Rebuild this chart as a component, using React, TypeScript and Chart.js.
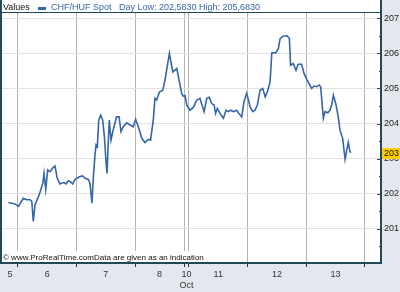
import { useEffect, useRef } from 'react';
import { Chart, registerables } from 'chart.js';
Chart.register(...registerables);

// ---- data ----
const seriesName = 'CHF/HUF Spot';
const dayLow = '202,5830';
const dayHigh = '205,6830';
const sourceNote = '\u00A9 www.ProRealTime.comData are given as an indication';

// time in trading hours from the start of the window (weekend compressed)
const times = [
  2.6, 5.3, 6.7, 8.7, 10.1, 11.5, 12.2, 12.8, 13.5, 14.9, 15.5, 16.7, 17.2, 17.9, 18.7, 19.6, 20.7, 21.7, 22.6, 23.7,
  24.4, 25.4, 26.2, 27.1, 28.1, 28.9, 29.9, 31.9, 33.0, 34.0, 35.3, 36.0, 36.8, 37.4, 38.1, 38.5, 39.0, 39.6, 40.4, 41.2,
  41.9, 42.6, 43.0, 43.4, 43.9, 44.6, 45.5, 46.2, 46.9, 47.9, 48.7, 49.6, 51.0, 52.4, 53.7, 54.7, 55.8, 57.2, 58.5, 59.9,
  60.8, 61.9, 62.6, 63.3, 64.4, 65.8, 66.7, 67.6, 68.5, 69.0, 69.9, 70.8, 71.5, 72.6, 73.5, 74.2, 74.9, 75.6, 76.9, 78.3,
  79.7, 81.0, 82.7, 83.8, 84.8, 85.8, 86.8, 87.4, 88.1, 89.2, 90.6, 91.7, 92.6, 93.6, 94.7, 96.0, 97.1, 98.1, 99.0, 100.1,
  100.8, 101.5, 102.6, 103.5, 104.5, 105.6, 106.7, 107.7, 108.7, 109.7, 110.4, 112.1, 113.1, 113.8, 114.9, 116.7, 117.6, 118.1, 119.2, 120.3,
  121.2, 122.6, 123.6, 124.7, 126.7, 127.7, 128.8, 129.8, 130.4, 131.5, 132.2, 133.3, 134.2, 134.9, 135.6, 136.7, 137.6, 138.3, 139.4, 140.4,
  141.1, 141.7, 142.4, 142.8,
];
const values = [
  201.75, 201.71, 201.64, 201.87, 201.83, 201.83, 201.78, 201.21, 201.68, 201.92, 202.03, 202.30, 202.58, 202.13, 202.68, 202.63, 202.73, 202.79, 202.44, 202.28,
  202.30, 202.32, 202.28, 202.37, 202.34, 202.28, 202.41, 202.49, 202.51, 202.44, 202.41, 202.30, 201.73, 202.49, 203.15, 203.39, 203.34, 204.10, 204.24, 204.10,
  203.63, 202.87, 202.58, 203.34, 204.10, 203.53, 203.82, 204.01, 204.19, 204.19, 203.77, 203.91, 204.02, 203.96, 203.91, 204.12, 203.91, 203.58, 203.46, 203.55,
  203.53, 204.10, 204.72, 204.67, 204.90, 204.95, 205.24, 205.62, 206.00, 205.81, 205.47, 205.52, 205.57, 205.19, 204.86, 204.78, 204.80, 204.53, 204.38, 204.46,
  204.67, 204.72, 204.34, 204.72, 204.75, 204.57, 204.53, 204.29, 204.43, 204.29, 204.15, 204.38, 204.34, 204.38, 204.34, 204.38, 204.27, 204.19, 204.62, 204.86,
  204.69, 204.48, 204.34, 204.38, 204.53, 204.95, 205.00, 204.76, 204.93, 205.19, 206.01, 206.02, 206.14, 206.42, 206.49, 206.50, 206.42, 205.66, 205.71, 205.52,
  205.69, 205.69, 205.43, 205.26, 205.00, 205.07, 205.05, 205.10, 205.05, 204.15, 204.34, 204.31, 204.38, 204.53, 204.81, 204.53, 204.19, 203.82, 203.58, 202.98,
  203.25, 203.46, 203.20, 203.17,
];

const xMin = 0;
const xMax = 155.5;
const dayBoundaries = [6.5, 30.5, 54.5, 74.5, 76.5, 100.5, 124.5, 148.5];
const dayLabels = ['5', '6', '7', '8', '10', '11', '12', '13'];
const monthLabel = 'Oct';
const monthUnderDay = '10';

const yMin = 200;
const yMax = 207.15;
const yMajor = [201, 202, 203, 204, 205, 206, 207];
const yMinor = [200.5, 201.5, 202.5, 203.5, 204.5, 205.5, 206.5];

// ---- styles ----
const FONT = "'Liberation Sans', Arial, sans-serif";
const FRAME = '#1f4a56';
const BLUE = '#3566a8';

const segStarts = [xMin, ...dayBoundaries.slice(0, -1)];
const labelPositions = segStarts.map((s, i) => (s + dayBoundaries[i]) / 2);

export default function App() {
  const ref = useRef<HTMLCanvasElement | null>(null);

  useEffect(() => {
    if (!ref.current) return;

    const framePlugin = {
      id: 'frame',
      beforeDraw(chart: any) {
        const { ctx, chartArea } = chart;
        ctx.save();
        ctx.fillStyle = '#ffffff';
        ctx.fillRect(0, 0, chartArea.right, chartArea.bottom);
        ctx.restore();
      },
      afterDraw(chart: any) {
        const { ctx, chartArea, scales } = chart;
        const { left, right, top, bottom } = chartArea;
        ctx.save();
        // header text
        ctx.font = `9px ${FONT}`;
        ctx.textBaseline = 'alphabetic';
        ctx.textAlign = 'left';
        ctx.fillStyle = '#111';
        ctx.fillText('Values', 3, 10);
        ctx.fillStyle = BLUE;
        ctx.fillRect(38, 7, 8, 3);
        ctx.fillText(seriesName, 51, 10);
        ctx.fillText(`Day Low: ${dayLow} High: ${dayHigh}`, 119, 10);
        // source note
        ctx.font = `8px ${FONT}`;
        const w = ctx.measureText(sourceNote).width;
        ctx.fillStyle = '#fff';
        ctx.fillRect(left, bottom - 13, w + 3, 12);
        ctx.fillStyle = '#111';
        ctx.fillText(sourceNote, 3, bottom - 4);
        // y tick marks inside the right edge
        const ys = scales.y;
        ctx.strokeStyle = '#444';
        ctx.lineWidth = 1;
        ys.ticks.forEach((t: any) => {
          const isMajor = yMajor.includes(t.value);
          const len = isMajor ? 5 : 3;
          const py = Math.round(ys.getPixelForValue(t.value)) + 0.5;
          ctx.beginPath();
          ctx.moveTo(right - len, py);
          ctx.lineTo(right, py);
          ctx.stroke();
        });
        // frame
        ctx.strokeStyle = FRAME;
        ctx.lineWidth = 2;
        ctx.beginPath();
        ctx.moveTo(1, 0);
        ctx.lineTo(1, bottom);
        ctx.moveTo(0, bottom - 1);
        ctx.lineTo(right, bottom - 1);
        ctx.moveTo(right - 1, 0);
        ctx.lineTo(right - 1, bottom);
        ctx.stroke();
        ctx.lineWidth = 1;
        ctx.beginPath();
        ctx.moveTo(0, top - 0.5);
        ctx.lineTo(right, top - 0.5);
        ctx.stroke();
        // last value marker
        const last = values[values.length - 1];
        const ly = ys.getPixelForValue(last);
        ctx.fillStyle = '#ffcc00';
        ctx.fillRect(right, Math.round(ly) - 5, 18, 11);
        ctx.fillStyle = '#111';
        ctx.font = `9px ${FONT}`;
        ctx.textBaseline = 'middle';
        ctx.fillText(String(Math.floor(last)), right + 2, Math.round(ly) + 1);
        ctx.restore();
      },
    };

    const chart = new Chart(ref.current, {
      type: 'line',
      data: {
        datasets: [
          {
            label: seriesName,
            data: times.map((t, i) => ({ x: t, y: values[i] })),
            borderColor: BLUE,
            borderWidth: 1.6,
            pointRadius: 0,
            tension: 0,
            fill: false,
          },
        ],
      },
      options: {
        animation: false,
        responsive: true,
        maintainAspectRatio: false,
        layout: { padding: { left: 2, top: 13, right: 0, bottom: 0 } },
        plugins: { legend: { display: false }, tooltip: { enabled: false } },
        scales: {
          x: {
            type: 'linear',
            min: xMin,
            max: xMax,
            border: { display: false },
            afterBuildTicks: (scale: any) => {
              const all = [...dayBoundaries, ...labelPositions].sort((a, b) => a - b);
              scale.ticks = all.map((v) => ({ value: v }));
            },
            afterFit: (scale: any) => {
              scale.height = 28;
            },
            grid: {
              color: (ctx: any) => (dayBoundaries.includes(ctx.tick?.value) ? '#b4b4b4' : 'rgba(0,0,0,0)'),
              tickColor: (ctx: any) => (dayBoundaries.includes(ctx.tick?.value) ? '#333' : 'rgba(0,0,0,0)'),
              tickLength: 3,
              lineWidth: 1,
            },
            ticks: {
              autoSkip: false,
              maxRotation: 0,
              padding: 2,
              color: '#333',
              font: { family: FONT, size: 9 },
              callback: (value: any) => {
                const i = labelPositions.indexOf(Number(value));
                if (i < 0) return '';
                const lbl = dayLabels[i];
                return lbl === monthUnderDay ? [lbl, monthLabel] : lbl;
              },
            },
          },
          y: {
            type: 'linear',
            position: 'right',
            min: yMin,
            max: yMax,
            border: { display: false },
            afterBuildTicks: (scale: any) => {
              scale.ticks = [...yMinor, ...yMajor].sort((a, b) => a - b).map((v) => ({ value: v }));
            },
            afterFit: (scale: any) => {
              scale.width = 18;
            },
            grid: {
              color: (ctx: any) => (yMajor.includes(ctx.tick?.value) ? '#e2e2e2' : 'rgba(0,0,0,0)'),
              drawTicks: false,
              lineWidth: 1,
            },
            ticks: {
              autoSkip: false,
              padding: 2,
              color: '#222',
              font: { family: FONT, size: 9 },
              callback: (value: any) => (yMajor.includes(Number(value)) ? String(value) : ''),
            },
          },
        },
      },
      plugins: [framePlugin],
    } as any);

    return () => chart.destroy();
  }, []);

  return (
    <div
      style={{
        position: 'fixed',
        left: 0,
        top: 0,
        width: 400,
        height: 292,
        background: '#e4e8ee',
      }}
    >
      <canvas ref={ref} />
    </div>
  );
}
